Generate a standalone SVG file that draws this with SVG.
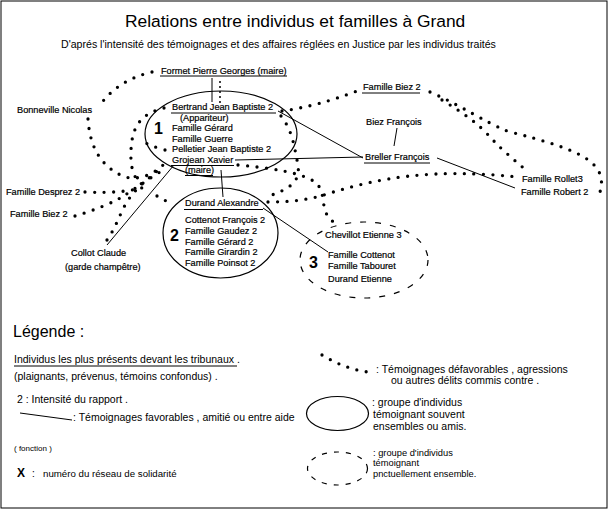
<svg xmlns="http://www.w3.org/2000/svg" width="610" height="512" viewBox="0 0 610 512">
<style>
text{font-family:"Liberation Sans",Arial,sans-serif;fill:#000}
.n{font-size:9.2px;stroke:#000;stroke-width:0.2}
.big{font-size:16px;font-weight:bold}
.lg{font-size:10.5px}
.ln{stroke:#000;stroke-width:1;fill:none}
.dot{stroke:#000;stroke-width:3.3;stroke-linecap:round;stroke-dasharray:0 9.5;fill:none}
.ell{stroke:#000;stroke-width:1.2;fill:none}
.dash{stroke-dasharray:6 9}
</style>
<rect x="1" y="1" width="606" height="507" fill="#fff" stroke="#000" stroke-width="1"/>
<g id="titre">
<text x="125" y="27" style="font-size:17.4px">Relations entre individus et familles à Grand</text>
<text x="61" y="48" style="font-size:10.6px">D'aprés l'intensité des témoignages et des affaires réglées en Justice par les individus traités</text>
</g>
<g id="connecteurs">
<line class="ln" x1="212" y1="78" x2="212" y2="102"/>
<path class="dot" d="M220,82 L220,103" style="stroke-width:2;stroke-dasharray:0 5"/>
<line class="ln" x1="278" y1="111" x2="363" y2="158"/>
<line class="ln" x1="235" y1="160" x2="363" y2="157"/>
<line class="ln" x1="437" y1="158" x2="515" y2="188"/>
<line class="ln" x1="397" y1="128" x2="394" y2="146"/>
<line class="ln" x1="221" y1="170" x2="223" y2="197"/>
<line class="ln" x1="174" y1="165" x2="107" y2="245"/>
<line class="ln" x1="263" y1="208" x2="328" y2="252"/>
<path class="dot" d="M152,72 Q118,80 100,105"/>
<path class="dot" d="M88,119 C90,150 103,168 125,177 C142,181 157,172 166,162"/>
<path class="dot" d="M164,108 C138,114 132,130 131,150 C130,170 135,180 142,184"/>
<path class="dot" d="M85,192 C110,193 130,192 148,186"/>
<path class="dot" d="M75,216 C95,210 115,202 125,195 C133,190 150,178 160,172"/>
<path class="dot" d="M107,240 C118,225 122,205 133,194 C140,184 150,178 158,170"/>
<path class="dot" d="M165,150 Q150,146 140,140"/>
<path class="dot" d="M157,196 L168,202"/>
<path class="dot" d="M282,111 Q318,106 357,91"/>
<path class="dot" d="M430,92 C460,105 485,122 507,131 C545,141 578,150 592,163 C602,172 603,182 600,192"/>
<path class="dot" d="M442,100 C462,112 480,125 490,137 C505,153 518,163 527,171"/>
<path class="dot" d="M281,116 C292,130 294,145 297,160 C300,172 298,180 290,186 Q280,193 268,196"/>
<path class="dot" d="M238,165 C270,168 300,172 315,182 C325,190 322,205 326,213 C330,220 335,224 340,226"/>
<path class="dot" d="M268,202 C290,202 310,200 330,193 C380,178 430,168 518,177"/>
</g>
<g id="formet">
<text class="n" x="161" y="73.5">Formet Pierre Georges (maire)</text>
<line class="ln" x1="160" y1="76" x2="287" y2="76"/>
</g>
<g id="reseau1">
<ellipse class="ell" cx="221" cy="134" rx="76" ry="43"/>
<text class="big" x="154" y="134">1</text>
<text class="n" x="172" y="110">Bertrand Jean Baptiste 2</text>
<line class="ln" x1="171" y1="113" x2="276" y2="113"/>
<text class="n" x="180" y="120.5">(Appariteur)</text>
<text class="n" x="172" y="131">Famille Gérard</text>
<text class="n" x="172" y="141.5">Famille Guerre</text>
<text class="n" x="172" y="152">Pelletier Jean Baptiste 2</text>
<text class="n" x="172" y="162.5">Grojean Xavier</text>
<line class="ln" x1="171" y1="165.5" x2="234" y2="165.5"/>
<text class="n" x="185" y="173">(maire)</text>
<line class="ln" x1="185" y1="175.5" x2="213" y2="175.5"/>
</g>
<g id="reseau2">
<ellipse class="ell" cx="220.5" cy="233" rx="57.5" ry="45"/>
<text class="big" x="170" y="241">2</text>
<text class="n" x="185" y="206">Durand Alexandre</text>
<line class="ln" x1="184" y1="209.5" x2="263" y2="209.5"/>
<text class="n" x="185" y="223">Cottenot François 2</text>
<text class="n" x="185" y="234">Famille Gaudez 2</text>
<text class="n" x="185" y="244.5">Famille Gérard 2</text>
<text class="n" x="185" y="255">Famille Girardin 2</text>
<text class="n" x="185" y="266">Famille Poinsot 2</text>
</g>
<g id="reseau3">
<ellipse class="ell dash" cx="364" cy="260" rx="64" ry="38"/>
<text class="big" x="309" y="268">3</text>
<text class="n" x="325" y="238">Chevillot Etienne 3</text>
<text class="n" x="328" y="257.5">Famille Cottenot</text>
<text class="n" x="328" y="269">Famille Tabouret</text>
<text class="n" x="328" y="281.5">Durand Etienne</text>
</g>
<g id="bonneville"><text class="n" x="17" y="113">Bonneville Nicolas</text></g>
<g id="desprez"><text class="n" x="6" y="195">Famille Desprez 2</text></g>
<g id="biez-gauche"><text class="n" x="10" y="216.5">Famille Biez 2</text></g>
<g id="collot"><text class="n" x="71" y="256">Collot Claude</text><text class="n" x="65" y="270">(garde champêtre)</text></g>
<g id="biez-droite"><text class="n" x="363" y="90">Famille Biez 2</text><line class="ln" x1="362" y1="93" x2="420" y2="93"/></g>
<g id="biez-francois"><text class="n" x="366" y="125">Biez François</text></g>
<g id="breller"><text class="n" x="365" y="160">Breller François</text><line class="ln" x1="364" y1="163" x2="430" y2="163"/></g>
<g id="rollet"><text class="n" x="522" y="182">Famille Rollet3</text></g>
<g id="robert"><text class="n" x="521" y="195">Famille Robert 2</text></g>
<g id="legende">
<text x="13" y="337" style="font-size:16px">Légende :</text>
<text class="lg" x="14" y="363">Individus les plus présents devant les tribunaux .</text>
<line class="ln" x1="14" y1="366" x2="237" y2="366"/>
<text class="lg" x="14" y="380">(plaignants, prévenus, témoins confondus) .</text>
<text class="lg" x="17" y="403">2 :  Intensité du rapport .</text>
<line class="ln" x1="20" y1="413" x2="72" y2="420"/>
<text class="lg" x="73" y="421">: Témoignages favorables , amitié ou entre aide</text>
<text x="14" y="451" style="font-size:8px">( fonction )</text>
<text x="17" y="477" style="font-size:12px;font-weight:bold">X</text>
<text x="32" y="477" style="font-size:10px">:</text>
<text x="43" y="477" style="font-size:9.7px">numéro du réseau de solidarité</text>
<path class="dot" d="M322,355 Q345,369 368,372"/>
<text class="lg" x="376" y="373">: Témoignages défavorables , agressions</text>
<text class="lg" x="391" y="384">ou autres  délits  commis contre .</text>
<ellipse class="ell" cx="337.5" cy="413.5" rx="31" ry="17"/>
<text class="lg" x="372" y="406">: groupe d'individus</text>
<text class="lg" x="373" y="418">témoignant souvent</text>
<text class="lg" x="373" y="430">ensembles ou amis.</text>
<ellipse class="ell" cx="337.5" cy="468.5" rx="30" ry="16.5" style="stroke-dasharray:5 7"/>
<text x="373" y="456" style="font-size:9.3px">: groupe d'individus</text>
<text x="373" y="465.5" style="font-size:9.3px">témoignant</text>
<text x="373" y="476.5" style="font-size:9.3px">pnctuellement ensemble.</text>
</g>
</svg>
